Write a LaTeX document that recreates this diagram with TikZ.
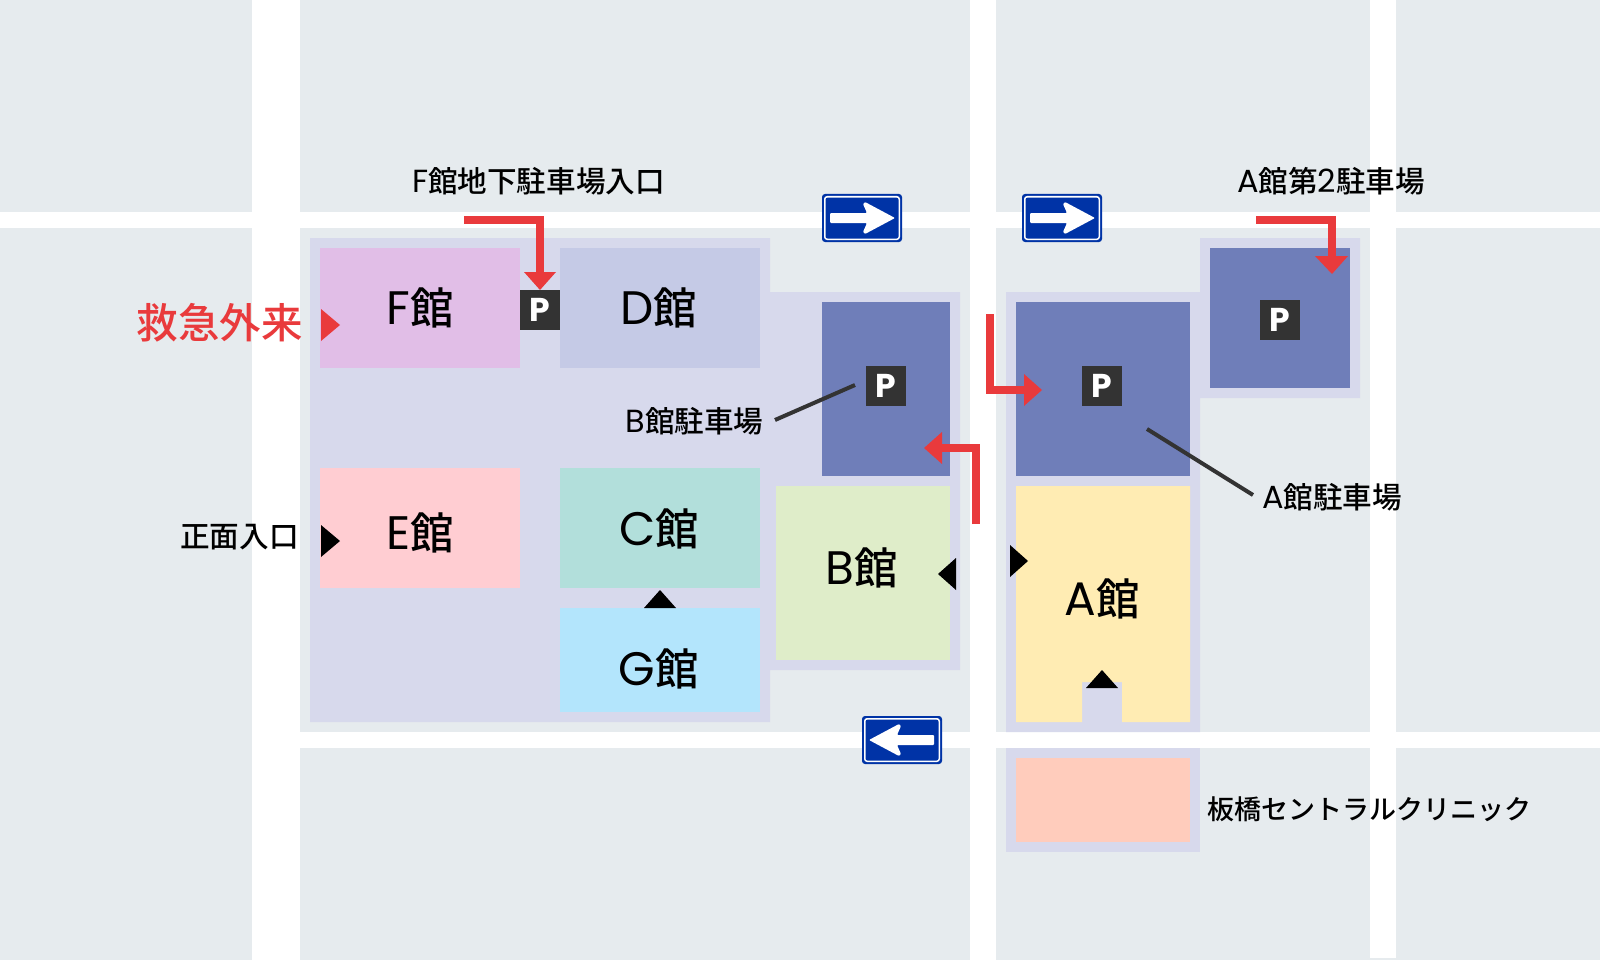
\documentclass[tikz,border=0pt]{standalone}
\usepackage{fontspec}
\setmainfont{Noto Sans CJK JP}[UprightFont=* Medium]
\newfontfamily\latinface{Poppins}
\newfontfamily\pface{Poppins}[UprightFont=* Bold,BoldFont=* Bold]
\newcommand{\lat}[1]{{\latinface\fontsize{1.08em}{1em}\selectfont #1}}
\definecolor{groundc}{HTML}{E6EBEE}
\definecolor{sitec}{HTML}{D7D9EC}
\definecolor{parkc}{HTML}{6F7EB9}
\definecolor{fc}{HTML}{E1BEE7}
\definecolor{dc}{HTML}{C5CAE6}
\definecolor{ec}{HTML}{FFCDD2}
\definecolor{cc}{HTML}{B2DFDB}
\definecolor{gc}{HTML}{B3E5FC}
\definecolor{bc}{HTML}{DFEDC9}
\definecolor{ac}{HTML}{FFECB3}
\definecolor{clinicc}{HTML}{FFCCBC}
\definecolor{redc}{HTML}{E93A3C}
\definecolor{darkc}{HTML}{333333}
\definecolor{signc}{HTML}{0033A6}
\tikzset{
  bigname/.style={font=\fontsize{43.5}{44}\selectfont,text=black,inner sep=0pt},
  smallname/.style={font=\fontsize{29.6}{30}\selectfont,text=black,inner sep=0pt},
  clinicname/.style={font=\fontsize{27}{28}\selectfont,text=black,inner sep=0pt},
  redname/.style={font=\fontsize{41.5}{42}\selectfont,text=redc,inner sep=0pt},
  pbox/.style={fill=darkc,text=white,minimum size=40pt,inner sep=0pt,font=\pface\fontsize{33}{33}\selectfont},
  redshaft/.style={draw=redc,line width=8pt,miter limit=10},
  leaderline/.style={draw=darkc,line width=4pt},
  oneway/.pic={
    \fill[signc,rounded corners=3pt] (-40,-24) rectangle (40,24);
    \fill[white,rounded corners=3pt] (-38,-22) rectangle (38,22);
    \fill[signc,rounded corners=2pt] (-36.5,-20.3) rectangle (36.5,20.5);
    \fill[white,rounded corners=1pt] (-32,-5) -- (5,-5) -- (1,-14) -- (3,-16) -- (33,0) -- (3,16) -- (1,14) -- (5,5) -- (-32,5) -- cycle;
  }
}
\begin{document}
\begin{tikzpicture}[x=1pt,y=-1pt]
\useasboundingbox (0,0) rectangle (1600,960);
% ground and roads
\fill[groundc] (0,0) rectangle (1600,960);
\fill[white] (252,0) rectangle (300,960);
\fill[white] (970,0) rectangle (996,960);
\fill[white] (1370,0) rectangle (1396,958);
\fill[white] (0,212) rectangle (1600,228);
\fill[white] (300,732) rectangle (1600,748);
% sites
\fill[sitec] (310,238) -- (770,238) -- (770,292) -- (960,292) -- (960,670) -- (770,670) -- (770,722) -- (310,722) -- cycle;
\fill[sitec] (1006,292) -- (1200,292) -- (1200,238) -- (1360,238) -- (1360,398) -- (1200,398) -- (1200,732) -- (1006,732) -- cycle;
\fill[sitec] (1006,748) rectangle (1200,852);
% buildings
\fill[fc] (320,248) rectangle (520,368);
\fill[dc] (560,248) rectangle (760,368);
\fill[ec] (320,468) rectangle (520,588);
\fill[cc] (560,468) rectangle (760,588);
\fill[gc] (560,608) rectangle (760,712);
\fill[bc] (776,486) rectangle (950,660);
\fill[ac] (1016,486) -- (1190,486) -- (1190,722) -- (1122,722) -- (1122,682) -- (1082,682) -- (1082,722) -- (1016,722) -- cycle;
\fill[clinicc] (1016,758) rectangle (1190,842);
\fill[parkc] (822,302) rectangle (950,476);
\fill[parkc] (1016,302) rectangle (1190,476);
\fill[parkc] (1210,248) rectangle (1350,388);
% parking marks
\node[pbox] (pf) at (540,310) {P};
\node[pbox] (pb) at (886,386) {P};
\node[pbox] (pa) at (1102,386) {P};
\node[pbox] (pa2) at (1280,320) {P};
% building names
\node[bigname] (nf) at (420,308) {\lat{F}館};
\node[bigname] (nd) at (659,308) {\lat{D}館};
\node[bigname] (ne) at (420,533) {\lat{E}館};
\node[bigname] (nc) at (659,529) {\lat{C}館};
\node[bigname] (ng) at (659,669) {\lat{G}館};
\node[bigname] (nb) at (862,568) {\lat{B}館};
\node[bigname] (na) at (1102,599) {\lat{A}館};
% labels
\node[smallname] (lf) at (538.5,181.5) {\lat{F}館地下駐車場入口};
\node[smallname] (la2) at (1331,181.5) {\lat{A}館第\lat{2}駐車場};
\node[smallname] (lb) at (694.5,421) {\lat{B}館駐車場};
\node[smallname] (la) at (1332,497.5) {\lat{A}館駐車場};
\node[smallname] (lfront) at (239.5,537.5) {正面入口};
\node[clinicname] (lclinic) at (1369.5,809) {板橋セントラルクリニック};
\node[redname] (lem) at (219.5,323) {救急外来};
% leader lines
\coordinate (bl1) at (775,420); \coordinate (bl2) at (855,385);
\coordinate (al1) at (1147,429); \coordinate (al2) at (1253,495);
\draw[leaderline] (bl1) -- (bl2);
\draw[leaderline] (al1) -- (al2);
% black entrance marks
\fill[black] (321,525) -- (340,541) -- (321,557) -- cycle;
\fill[black] (956,558) -- (938,574) -- (956,590) -- cycle;
\fill[black] (1010,545) -- (1028,561) -- (1010,577) -- cycle;
\fill[black] (644,608) -- (660,590) -- (676,608) -- cycle;
\fill[black] (1086,688) -- (1102,670) -- (1118,688) -- cycle;
% red mark
\fill[redc] (321,309) -- (340,325) -- (321,341) -- cycle;
% red arrows
\coordinate (r1a) at (464,220); \coordinate (r1b) at (540,220); \coordinate (r1c) at (540,274);
\draw[redshaft] (r1a) -- (r1b) -- (r1c);
\fill[redc] (524,272) -- (556,272) -- (540,290) -- cycle;
\coordinate (r2a) at (1256,220); \coordinate (r2b) at (1332,220); \coordinate (r2c) at (1332,258);
\draw[redshaft] (r2a) -- (r2b) -- (r2c);
\fill[redc] (1315,256) -- (1348,256) -- (1332,274) -- cycle;
\coordinate (r3a) at (990,314); \coordinate (r3b) at (990,390); \coordinate (r3c) at (1026,390);
\draw[redshaft] (r3a) -- (r3b) -- (r3c);
\fill[redc] (1024,374) -- (1042,390) -- (1024,406) -- cycle;
\coordinate (r4a) at (976,524); \coordinate (r4b) at (976,448); \coordinate (r4c) at (940,448);
\draw[redshaft] (r4a) -- (r4b) -- (r4c);
\fill[redc] (942,432) -- (924,448) -- (942,464) -- cycle;
% one-way signs
\pic at (862,218) {oneway};
\pic at (1062,218) {oneway};
\pic[xscale=-1] at (902,740) {oneway};
\end{tikzpicture}
\end{document}
